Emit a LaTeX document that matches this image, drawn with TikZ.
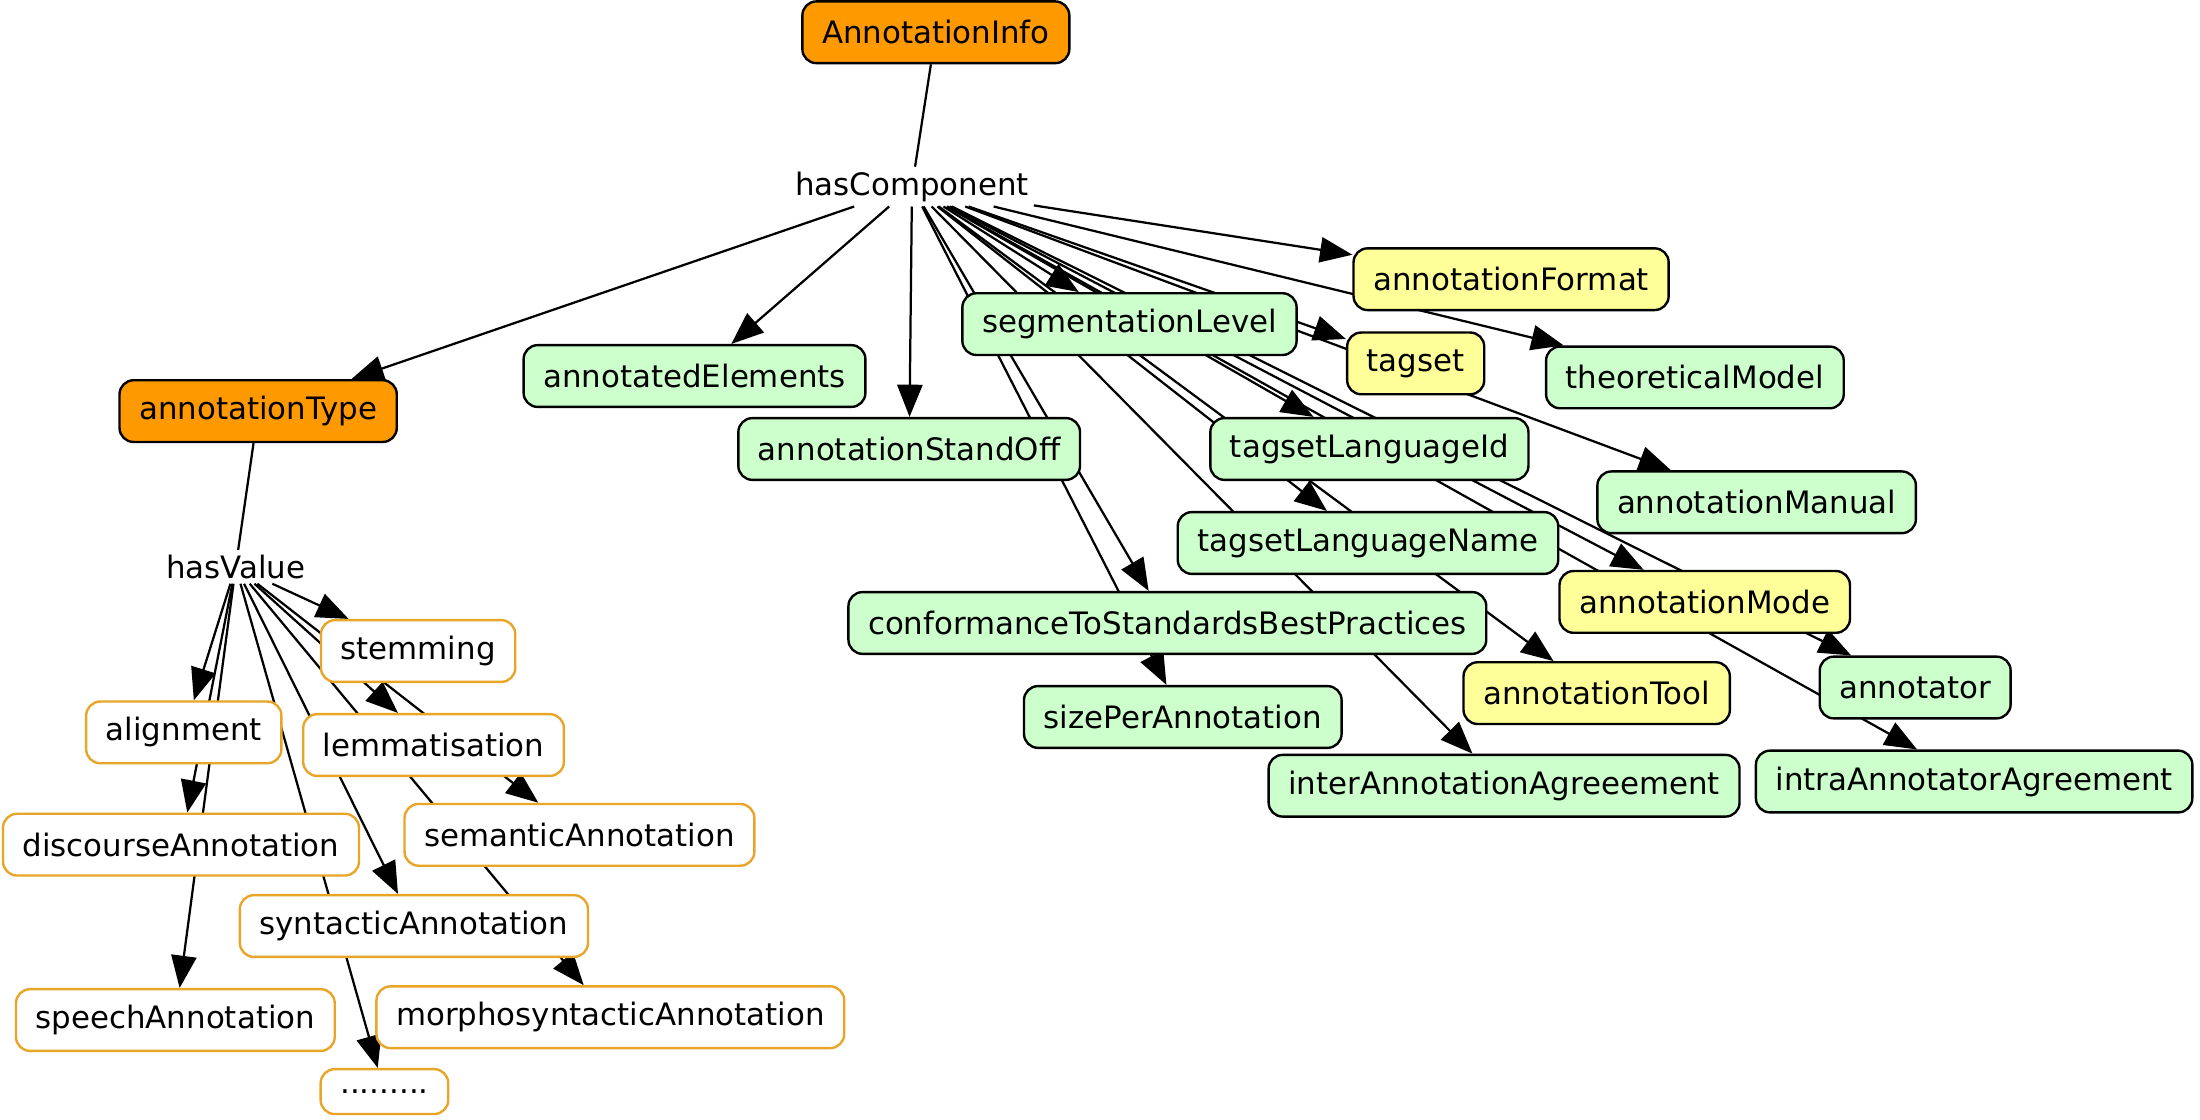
\documentclass[tikz,border=0pt]{standalone}
\usepackage{fontspec}
\setmainfont{DejaVu Sans}
\usetikzlibrary{arrows.meta,backgrounds}
\definecolor{rootfill}{RGB}{255,153,0}
\definecolor{compfill}{RGB}{204,255,204}
\definecolor{optfill}{RGB}{255,255,153}
\definecolor{valdraw}{RGB}{232,165,40}

\begin{document}
\begin{tikzpicture}[x=1pt, y=-1pt, font=\fontsize{22}{26}\selectfont, line join=round, >={Triangle[length=23pt,width=18pt]},
	box/.style={draw, line width=1.7pt, rounded corners=10pt, inner xsep=14pt, inner ysep=0pt, minimum height=44pt},
	rootbox/.style={box, fill=rootfill},
	compbox/.style={box, fill=compfill},
	optbox/.style={box, fill=optfill},
	valbox/.style={box, draw=valdraw, fill=white},
	conn/.style={line width=1.6pt}]
	\useasboundingbox (0,0) rectangle (1568,798);
	% top of the tree
	\node[rootbox] (info) at (667,23) {AnnotationInfo};
	\node (hascomp) at (650,133) {hasComponent};
	\node[rootbox] (type) at (184,293) {annotationType};
	\node (hasval) at (168,404) {hasValue};
	% components
	\node[compbox] (elements) at (495,268) {annotatedElements};
	\node[compbox] (standoff) at (648,320) {annotationStandOff};
	\node[compbox] (seglevel) at (805,231) {segmentationLevel};
	\node[optbox] (format) at (1077,199) {annotationFormat};
	\node[optbox] (tagset) at (1009,259) {tagset};
	\node[compbox] (theory) at (1208,269) {theoreticalModel};
	\node[compbox] (tagid) at (976,320) {tagsetLanguageId};
	\node[compbox] (manual) at (1252,358) {annotationManual};
	\node[compbox] (tagname) at (975,387) {tagsetLanguageName};
	\node[optbox] (mode) at (1215,429) {annotationMode};
	\node[compbox] (conform) at (832,444) {conformanceToStandardsBestPractices};
	\node[optbox] (tool) at (1138,494) {annotationTool};
	\node[compbox] (annotator) at (1365,490) {annotator};
	\node[compbox] (size) at (843,511) {sizePerAnnotation};
	\node[compbox] (inter) at (1072,560) {interAnnotationAgreeement};
	\node[compbox] (intra) at (1407,557) {intraAnnotatorAgreement};
	% values
	\node[valbox] (stemming) at (298,464) {stemming};
	\node[valbox] (alignment) at (131,522) {alignment};
	\node[valbox] (lemma) at (309,531) {lemmatisation};
	\node[valbox] (discourse) at (129,602) {discourseAnnotation};
	\node[valbox] (semantic) at (413,595) {semanticAnnotation};
	\node[valbox] (syntactic) at (295,660) {syntacticAnnotation};
	\node[valbox] (speech) at (125,727) {speechAnnotation};
	\node[valbox] (morpho) at (435,725) {morphosyntacticAnnotation};
	\node[valbox, minimum height=32pt] (dots) at (274,778) {.........};

	\begin{pgfonlayer}{background}
	\draw[conn] (info)--(hascomp) (type)--(hasval);
	\foreach \n in {type,elements,standoff,seglevel,format,tagset,theory,tagid,manual,tagname,mode,conform,tool,annotator,size,inter,intra}
		\draw[conn,->] (hascomp)--(\n);
	\foreach \n in {stemming,alignment,lemma,discourse,semantic,syntactic,speech,morpho,dots}
		\draw[conn,->] (hasval)--(\n);
	\end{pgfonlayer}
\end{tikzpicture}
\end{document}
